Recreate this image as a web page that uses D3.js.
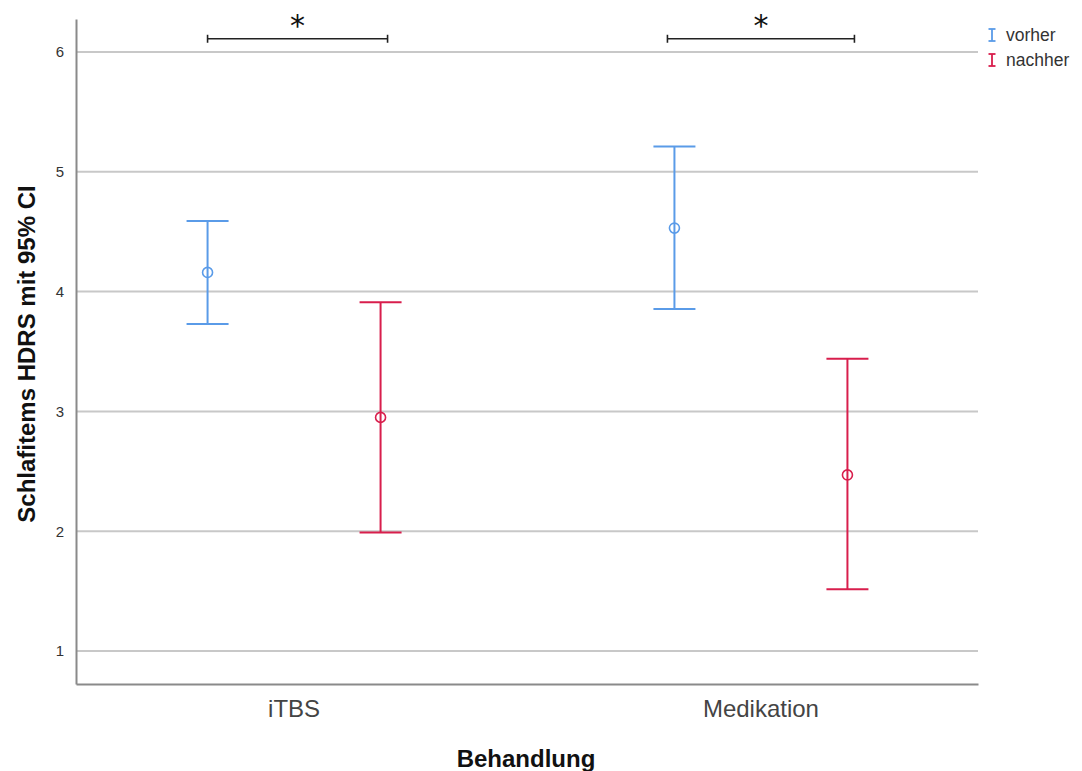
<!DOCTYPE html>
<html><head><meta charset="utf-8">
<script src="https://cdn.jsdelivr.net/npm/d3@7"></script>
<style>body{margin:0;background:#fff}svg{display:block}</style>
</head><body>
<svg id="c" width="1082" height="771"></svg>
<script>
const categories = ["iTBS", "Medikation"];
const groups = ["vorher", "nachher"];
const groupColors = ["#5a9be8", "#d81e4c"];
const means = { vorher: [4.16, 4.53], nachher: [2.95, 2.47] };
const upper = { vorher: [4.59, 5.21], nachher: [3.91, 3.44] };
const lower = { vorher: [3.73, 3.855], nachher: [1.99, 1.515] };
const yTicks = [1, 2, 3, 4, 5, 6];
const sigBrackets = [{ cat: "iTBS", label: "*" }, { cat: "Medikation", label: "*" }];
const xTitle = "Behandlung";
const yTitle = "Schlafitems HDRS mit 95% CI";

const svg = d3.select("#c");
const L = 76, R = 978, T = 19, B = 684;
const font = "Arial, 'Liberation Sans', sans-serif";
const y = d3.scaleLinear().domain([0.725, 6.275]).range([B, T]);
const x = d3.scalePoint().domain(categories).range([L, R]).padding(0.466);
const dodge = d3.scalePoint().domain(groups).range([-86, 87]);

// gridlines
svg.append("g").selectAll("line").data(yTicks).join("line")
  .attr("x1", L).attr("x2", R).attr("y1", d => y(d)).attr("y2", d => y(d))
  .attr("stroke", "#c8c8c8").attr("stroke-width", 2);

// y axis
const ya = svg.append("g").attr("transform", `translate(${L},0)`)
  .call(d3.axisLeft(y).tickValues(yTicks).tickFormat(d3.format("d")).tickSize(0).tickPadding(12));
ya.select(".domain").attr("stroke", "#8a8a8a").attr("stroke-width", 2);
ya.selectAll("text").attr("font-family", font).attr("font-size", 15).attr("fill", "#333");

// x axis
const xa = svg.append("g").attr("transform", `translate(0,${B})`)
  .call(d3.axisBottom(x).tickSize(0).tickPadding(16));
xa.select(".domain").attr("stroke", "#8a8a8a").attr("stroke-width", 2);
xa.selectAll("text").attr("font-family", font).attr("font-size", 24).attr("fill", "#444");

// titles
svg.append("text").attr("x", 526).attr("y", 767).attr("text-anchor", "middle")
  .attr("font-family", font).attr("font-weight", "bold").attr("font-size", 24).attr("fill", "#111").text(xTitle);
svg.append("text").attr("transform", "translate(35,354) rotate(-90)").attr("text-anchor", "middle")
  .attr("font-family", font).attr("font-weight", "bold").attr("font-size", 24).attr("fill", "#111").text(yTitle);

// error bars
const cap = 21;
groups.forEach((g, gi) => {
  const col = groupColors[gi];
  const gg = svg.append("g");
  categories.forEach((c, i) => {
    const cx = x(c) + dodge(g);
    gg.append("line").attr("x1", cx).attr("x2", cx).attr("y1", y(upper[g][i])).attr("y2", y(lower[g][i]))
      .attr("stroke", col).attr("stroke-width", 2);
    [upper[g][i], lower[g][i]].forEach(v => {
      gg.append("line").attr("x1", cx - cap).attr("x2", cx + cap).attr("y1", y(v)).attr("y2", y(v))
        .attr("stroke", col).attr("stroke-width", 2);
    });
    gg.append("circle").attr("cx", cx).attr("cy", y(means[g][i])).attr("r", 5)
      .attr("fill", "none").attr("stroke", col).attr("stroke-width", 1.6);
  });
});

// significance brackets
const by = y(6.11);
sigBrackets.forEach((b, i) => {
  const x1 = x(b.cat) + dodge("vorher") - (i === 0 ? 0 : 7);
  const x2 = x(b.cat) + dodge("nachher") + 7;
  const g = svg.append("g").attr("stroke", "#222").attr("stroke-width", 1.6);
  g.append("line").attr("x1", x1).attr("x2", x2).attr("y1", by).attr("y2", by);
  g.append("line").attr("x1", x1).attr("x2", x1).attr("y1", by - 4).attr("y2", by + 4);
  g.append("line").attr("x1", x2).attr("x2", x2).attr("y1", by - 4).attr("y2", by + 4);
  svg.append("text").attr("x", (x1 + x2) / 2).attr("y", by - 3).attr("text-anchor", "middle")
    .attr("font-family", "'DejaVu Sans', sans-serif").attr("font-size", 30).attr("fill", "#111").text(b.label);
});

// legend
groups.forEach((g, gi) => {
  const ly = 35 + gi * 25;
  const col = groupColors[gi];
  const lg = svg.append("g").attr("stroke", col).attr("stroke-width", 1.8);
  lg.append("line").attr("x1", 992).attr("x2", 992).attr("y1", ly - 6).attr("y2", ly + 6);
  lg.append("line").attr("x1", 988.5).attr("x2", 995.5).attr("y1", ly - 6).attr("y2", ly - 6);
  lg.append("line").attr("x1", 988.5).attr("x2", 995.5).attr("y1", ly + 6).attr("y2", ly + 6);
  svg.append("text").attr("x", 1006).attr("y", ly + 6).attr("font-family", font)
    .attr("font-size", 17.5).attr("fill", "#333").text(g);
});
</script>
</body></html>
